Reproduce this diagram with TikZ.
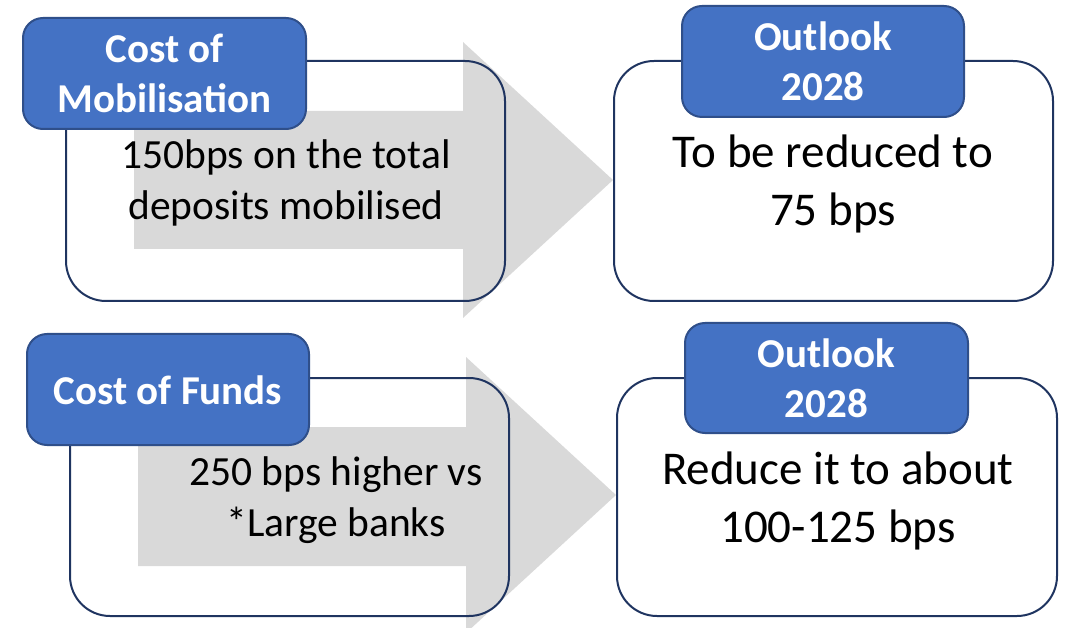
\documentclass[tikz,border=0pt]{standalone}
\usepackage{fontspec}
\setmainfont{Carlito}
\definecolor{lblblue}{HTML}{4472C4}
\definecolor{lbledge}{HTML}{2F4F8A}
\definecolor{boxedge}{HTML}{1F3460}
\definecolor{arrowgray}{HTML}{D9D9D9}
\tikzset{
  outerbox/.style={draw=boxedge, line width=2pt, rounded corners=40pt, inner sep=0pt, minimum width=439pt, minimum height=240pt},
  labelbox/.style={draw=lbledge, fill=lblblue, line width=2pt, rounded corners=20pt, inner sep=0pt, minimum width=283pt, minimum height=111pt},
  labeltext/.style={text=white, font=\fontsize{41}{50}\selectfont\bfseries, align=center, anchor=base, inner sep=0pt},
  bodyleft/.style={text=black, font=\fontsize{41.5}{51}\selectfont, align=center, anchor=base, inner sep=0pt},
  bodyright/.style={text=black, font=\fontsize{47}{58}\selectfont, align=center, anchor=base, inner sep=0pt},
  grayarrow/.style={fill=arrowgray, draw=none}
}
\begin{document}
\begin{tikzpicture}[x=1pt,y=-1pt]
\useasboundingbox (0,0) rectangle (1079,628);
\clip (0,0) rectangle (1079,628);
% gray arrows
\fill[grayarrow] (134,111) -- (463,111) -- (463,42) -- (613,180) -- (463,318) -- (463,249) -- (134,249) -- cycle;
\fill[grayarrow] (138,427) -- (466,427) -- (466,357) -- (616,495) -- (466,633) -- (466,566) -- (138,566) -- cycle;
% outer boxes
\node[outerbox] (boxTL) at (285.5,181) {};
\node[outerbox] (boxTR) at (833.5,181) {};
\node[outerbox, minimum height=238pt] (boxBL) at (289.5,497) {};
\node[outerbox, minimum height=238pt, minimum width=440pt] (boxBR) at (837,497) {};
% labels
\node[labelbox] (lblTL) at (164.5,73.5) {};
\node[labelbox, minimum width=282pt] (lblTR) at (823,61.5) {};
\node[labelbox, minimum width=282pt] (lblBL) at (168,389.5) {};
\node[labelbox, minimum height=110pt] (lblBR) at (826.5,378) {};
% label texts (anchor = baseline of last line)
\node[labeltext] (tTL) at (164.5,113) {Cost of\\Mobilisation};
\node[labeltext] (tTR) at (823,101) {Outlook\\2028};
\node[labeltext] (tBL) at (168,404) {Cost of Funds};
\node[labeltext] (tBR) at (826.5,417) {Outlook\\2028};
% body texts
\node[bodyleft] (bTL) at (286,220) {150bps on the total\\deposits mobilised};
\node[bodyright] (bTR) at (833,226) {To be reduced to\\75 bps};
\node[bodyleft] (bBL) at (336,536) {250 bps higher vs\\*Large banks};
\node[bodyright] (bBR) at (838,542) {Reduce it to about\\100-125 bps};
\end{tikzpicture}
\end{document}
